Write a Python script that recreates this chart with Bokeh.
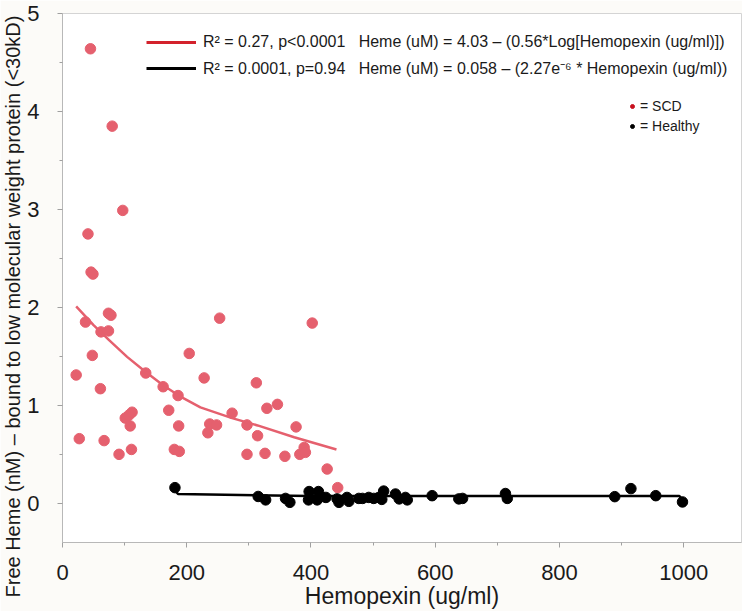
from bokeh.plotting import figure
from bokeh.models import Range1d, Legend, LegendItem, ColumnDataSource, FixedTicker, Title
from bokeh.embed import file_html
from bokeh.resources import INLINE

# ---- data ----
scd_x = [45, 80, 97, 41, 46, 49, 22, 27, 37, 48, 61, 62, 74, 67, 74, 78, 91, 101, 107, 112, 109, 111,
         134, 162, 171, 186, 187, 180, 188, 204, 228, 234, 237, 248, 253, 273, 297, 297, 312, 314,
         329, 326, 346, 358, 376, 382, 389, 391, 402, 426, 443]
scd_y = [4.64, 3.85, 2.99, 2.75, 2.36, 2.34, 1.31, 0.66, 1.85, 1.51, 1.17, 1.75, 1.76, 0.64, 1.94, 1.92,
         0.50, 0.87, 0.90, 0.93, 0.79, 0.55, 1.33, 1.19, 0.95, 1.10, 0.79, 0.55, 0.53, 1.53, 1.28, 0.72,
         0.81, 0.80, 1.89, 0.92, 0.80, 0.50, 1.23, 0.69, 0.97, 0.51, 1.01, 0.48, 0.78, 0.50, 0.57, 0.52,
         1.84, 0.35, 0.16]

healthy_x = [181, 315, 327, 359, 366, 397, 396, 412, 410, 424, 442, 445, 458, 461, 477, 483, 493, 501,
             509, 517, 514, 536, 542, 552, 555, 595, 638, 644, 713, 716, 889, 915, 955, 998]
healthy_y = [0.16, 0.07, 0.035, 0.05, 0.01, 0.12, 0.035, 0.12, 0.035, 0.06, 0.045, 0.01, 0.06, 0.02,
             0.05, 0.05, 0.06, 0.05, 0.06, 0.125, 0.04, 0.095, 0.045, 0.06, 0.035, 0.078, 0.045, 0.05,
             0.10, 0.05, 0.068, 0.15, 0.078, 0.014]

# fitted curve (SCD) as drawn in the reference
scd_fit_x = [22, 50, 75, 104, 134, 162, 187, 222, 273, 314, 373, 441]
scd_fit_y = [2.01, 1.82, 1.665, 1.495, 1.34, 1.205, 1.10, 0.98, 0.87, 0.795, 0.675, 0.55]

# fitted line (Healthy) as drawn in the reference
healthy_fit_x = [180, 186, 400, 993, 998]
healthy_fit_y = [0.14, 0.095, 0.075, 0.075, 0.035]

x_ticks = [0, 200, 400, 600, 800, 1000]
x_minor = [100, 300, 500, 700, 900]
y_ticks = [0, 1, 2, 3, 4, 5]
y_minor = [0.5, 1.5, 2.5, 3.5, 4.5]

legend_scd_fit = "R\u00b2 = 0.27, p<0.0001\u00a0\u00a0\u00a0Heme (uM) = 4.03 \u2013 (0.56*Log[Hemopexin (ug/ml)])"
legend_healthy_fit = "R\u00b2 = 0.0001, p=0.94\u00a0\u00a0\u00a0Heme (uM) = 0.058 \u2013 (2.27e\u207b\u2076 * Hemopexin (ug/ml))"
legend_scd = "= SCD"
legend_healthy = "= Healthy"
x_title = "Hemopexin (ug/ml)"
y_title = "Free Heme (nM) \u2013 bound to low molecular weight protein (<30kD)"

FONT = "Liberation Sans"
PINK = "#e5606e"
TXT = "#1a1a1a"

p = figure(width=742, height=611, output_backend="svg", toolbar_location=None,
           x_range=Range1d(0, 1093), y_range=Range1d(-0.4, 5.0),
           min_border_left=62, min_border_right=1, min_border_top=13, min_border_bottom=69)
p.border_fill_color = "#fcfbf8"
p.background_fill_color = "white"
p.outline_line_color = "#d4d4d4"
p.xgrid.visible = False
p.ygrid.visible = False

# axes
for ax in (p.xaxis[0], p.yaxis[0]):
    ax.axis_line_color = "#b8b8b8"
    ax.major_tick_line_color = "#a0a0a0"
    ax.minor_tick_line_color = "#a0a0a0"
    ax.major_tick_out = 5
    ax.major_tick_in = 0
    ax.minor_tick_out = 3
    ax.minor_tick_in = 0
    ax.major_label_text_font = FONT
    ax.major_label_text_font_size = "22px"
    ax.major_label_text_color = TXT

p.xaxis.ticker = FixedTicker(ticks=x_ticks, minor_ticks=x_minor)
p.yaxis.ticker = FixedTicker(ticks=y_ticks, minor_ticks=y_minor)
p.xaxis.major_label_standoff = 17
p.yaxis.major_label_standoff = 18
p.xaxis.axis_label = x_title
p.xaxis.axis_label_text_font = FONT
p.xaxis.axis_label_text_font_size = "23px"
p.xaxis.axis_label_text_font_style = "normal"
p.xaxis.axis_label_text_color = TXT
p.xaxis.axis_label_standoff = 0

p.add_layout(Title(text=y_title, align="left", offset=-55, vertical_align="middle", standoff=0,
                   text_font=FONT, text_font_size="20px", text_font_style="normal",
                   text_color=TXT), "left")

# data
p.scatter(scd_x, scd_y, size=10.5, fill_color=PINK, line_color=PINK)
p.line(scd_fit_x, scd_fit_y, line_color=PINK, line_width=2.5)
p.line(healthy_fit_x, healthy_fit_y, line_color="black", line_width=2.5)
p.scatter(healthy_x, healthy_y, size=10.5, fill_color="black", line_color="black")

# legend sample glyphs (NaN sources: nothing drawn in the plot area)
nan = float("nan")
def blank():
    return ColumnDataSource(dict(x=[nan], y=[nan]))
r_red = p.line("x", "y", source=blank(), line_color="#d3222c", line_width=3)
r_blk = p.line("x", "y", source=blank(), line_color="black", line_width=3)
r_dot_red = p.scatter("x", "y", source=blank(), size=7, fill_color="#c8101e", line_color="#c8101e")
r_dot_blk = p.scatter("x", "y", source=blank(), size=7, fill_color="black", line_color="black")

leg1 = Legend(items=[LegendItem(label=legend_scd_fit, renderers=[r_red]),
                     LegendItem(label=legend_healthy_fit, renderers=[r_blk])],
              location=(84, 461), orientation="vertical")
leg2 = Legend(items=[LegendItem(label=legend_scd, renderers=[r_dot_red]),
                     LegendItem(label=legend_healthy, renderers=[r_dot_blk])],
              location=(565, 406), orientation="vertical")
leg1.glyph_width = 50
leg1.glyph_height = 26
leg1.label_height = 26
leg1.label_standoff = 7
leg1.label_text_font_size = "16px"
leg2.glyph_width = 10
leg2.glyph_height = 20
leg2.label_height = 20
leg2.label_standoff = 3
leg2.label_text_font_size = "14px"
for lg in (leg1, leg2):
    lg.border_line_color = None
    lg.background_fill_alpha = 0
    lg.padding = 0
    lg.margin = 0
    lg.spacing = 0
    lg.label_text_font = FONT
    lg.label_text_color = TXT
    p.add_layout(lg)

open("out.html", "w").write(file_html(p, INLINE))
